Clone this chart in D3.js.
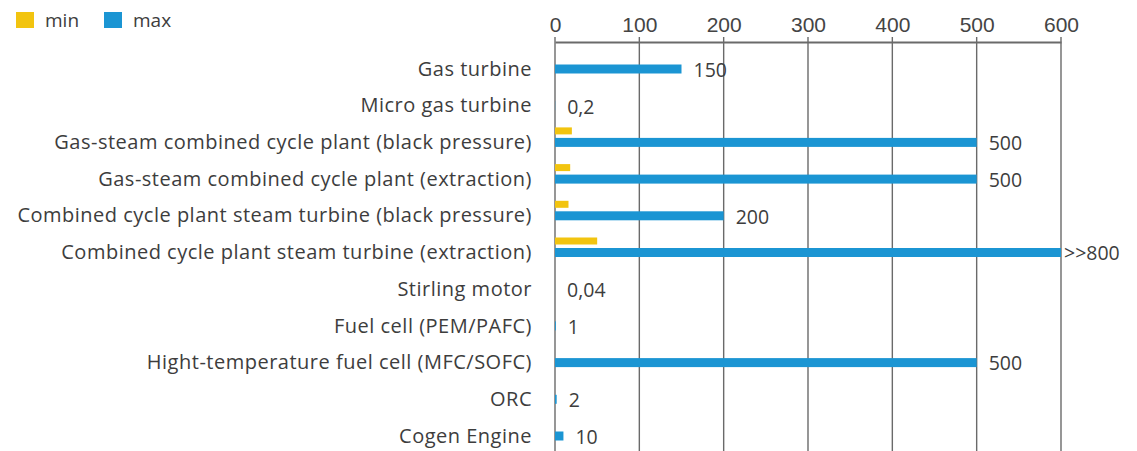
<!DOCTYPE html>
<html>
<head>
<meta charset="utf-8">
<script src="https://cdn.jsdelivr.net/npm/d3@7"></script>
<style>
  body { margin: 0; background: #fff; }
  svg { font-family: "Open Sans", sans-serif; }
</style>
</head>
<body>
<div id="chart"></div>
<script>
// data
var categories = [
  "Gas turbine",
  "Micro gas turbine",
  "Gas-steam combined cycle plant (black pressure)",
  "Gas-steam combined cycle plant (extraction)",
  "Combined cycle plant steam turbine (black pressure)",
  "Combined cycle plant steam turbine (extraction)",
  "Stirling motor",
  "Fuel cell (PEM/PAFC)",
  "Hight-temperature fuel cell (MFC/SOFC)",
  "ORC",
  "Cogen Engine"
];
var minValues = [0, 0, 20, 18, 16, 50, 0, 0, 0, 0, 0];
var maxValues = [150, 0.2, 500, 500, 200, 800, 0.04, 1, 500, 2, 10];
var maxLabels = ["150", "0,2", "500", "500", "200", ">>800", "0,04", "1", "500", "2", "10"];
var xTicks = [0, 100, 200, 300, 400, 500, 600];
var seriesNames = ["min", "max"];

var colors = {min: "#f2c40f", max: "#1b95d3"};
var textColor = "#3d3d3d";

var tot_width = 1137, tot_height = 451;
var svg = d3.select("#chart").append("svg")
  .attr("width", tot_width).attr("height", tot_height);

// size settings
var left = 555, right = 1061, axisY = 42;
var firstRow = 69, rowStep = 36.7;

var x = d3.scaleLinear().domain([0, 600]).range([left, right]).clamp(true);
var y = d3.scalePoint().domain(categories)
  .range([firstRow, firstRow + rowStep * (categories.length - 1)]);

// grid lines
svg.append("g").selectAll("line")
  .data(xTicks)
  .enter().append("line")
    .attr("x1", function(d) { return x(d); })
    .attr("x2", function(d) { return x(d); })
    .attr("y1", axisY - 5)
    .attr("y2", tot_height)
    .attr("stroke", "#6a6a6a")
    .attr("stroke-width", 1.4);

// top axis
var axis = svg.append("g")
  .attr("transform", "translate(0," + axisY + ")")
  .call(d3.axisTop(x).tickValues(xTicks).tickSize(0).tickPadding(10));
axis.select(".domain").attr("stroke", "#6a6a6a").attr("stroke-width", 2);
axis.selectAll("text")
  .attr("fill", "#444")
  .style("font-size", "21px");

// category labels
svg.append("g").selectAll("text")
  .data(categories)
  .enter().append("text")
    .attr("x", 532)
    .attr("y", function(d) { return y(d); })
    .attr("dy", "0.33em")
    .attr("text-anchor", "end")
    .attr("fill", textColor)
    .style("font-size", "20px")
    .style("letter-spacing", "0.5px")
    .text(function(d) { return d; });

// min bars (above the max bars)
svg.append("g").selectAll("rect")
  .data(categories)
  .enter().append("rect")
    .attr("x", x(0))
    .attr("y", function(d) { return y(d) - 15; })
    .attr("height", 7)
    .attr("width", function(d, i) { return x(minValues[i]) - x(0); })
    .attr("fill", colors.min);

// max bars
svg.append("g").selectAll("rect")
  .data(categories)
  .enter().append("rect")
    .attr("x", x(0))
    .attr("y", function(d) { return y(d) - 4.5; })
    .attr("height", 9)
    .attr("width", function(d, i) { return x(maxValues[i]) - x(0); })
    .attr("fill", colors.max);

// value labels
svg.append("g").selectAll("text")
  .data(categories)
  .enter().append("text")
    .attr("x", function(d, i) {
      // the clipped bar gets its label right at the end
      return x(maxValues[i]) + (maxValues[i] > 600 ? 3 : 12);
    })
    .attr("y", function(d) { return y(d); })
    .attr("dy", "0.4em")
    .attr("fill", textColor)
    .style("font-size", "19.5px")
    .text(function(d, i) { return maxLabels[i]; });

// legend
var legend = svg.append("g").attr("transform", "translate(16,12)");
var items = legend.selectAll("g")
  .data(seriesNames)
  .enter().append("g")
    .attr("transform", function(d, i) { return "translate(" + (i * 88) + ",0)"; });
items.append("rect")
  .attr("width", 18).attr("height", 16)
  .attr("fill", function(d) { return colors[d]; });
items.append("text")
  .attr("x", 29).attr("y", 8).attr("dy", "0.35em")
  .attr("fill", textColor)
  .style("font-size", "19px")
  .text(function(d) { return d; });
</script>
</body>
</html>
